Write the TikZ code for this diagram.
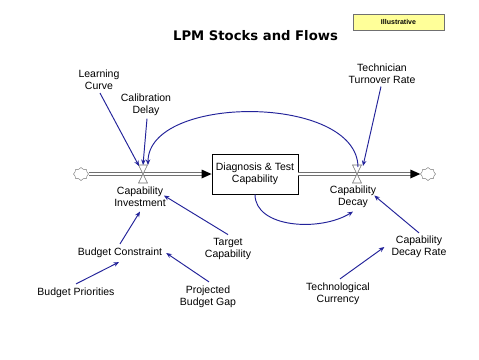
\documentclass[tikz,border=0pt]{standalone}
\usepackage{fontspec}
\setmainfont{Liberation Sans}
\newfontfamily\titlefont{DejaVu Sans}
\usetikzlibrary{arrows.meta,shapes.symbols,calc}
\definecolor{linkblue}{HTML}{23239A}
\definecolor{pipegray}{HTML}{707070}
\definecolor{illyellow}{HTML}{FFFF99}
\tikzset{
  lbl/.style={align=center,inner sep=0pt,font=\fontsize{10.5}{12}\selectfont},
  link/.style={draw=linkblue,line width=0.95pt,-{Stealth[length=5.5pt,width=4.5pt]}},
  pipe/.style={draw=pipegray,double=white,double distance=2.2pt,line width=0.7pt},
  cloudnode/.style={cloud,cloud puffs=8,draw=pipegray,fill=white,minimum width=15pt,minimum height=13pt,inner sep=0pt},
  stockbox/.style={draw=black,line width=0.9pt,fill=white,minimum width=86pt,minimum height=40pt,align=center,inner sep=0pt,font=\fontsize{10.5}{12.5}\selectfont},
}
\newcommand{\valve}[1]{%
  \filldraw[draw=pipegray,fill=white,line width=0.6pt] ($(#1)+(-4.5,-9)$) -- ($(#1)+(4.5,-9)$) -- (#1) -- cycle;
  \filldraw[draw=pipegray,fill=white,line width=0.6pt] ($(#1)+(-4.5,9)$) -- ($(#1)+(4.5,9)$) -- (#1) -- cycle;}
\begin{document}
\begin{tikzpicture}[x=1pt,y=-1pt]
\useasboundingbox[fill=white] (0,0) rectangle (479,359);
% title and badge
\node[font=\titlefont\bfseries\fontsize{13.2}{15}\selectfont] (title) at (255.5,36) {LPM Stocks and Flows};
\node[draw=pipegray,fill=illyellow,minimum width=91pt,minimum height=16pt,inner sep=0pt,font=\bfseries\fontsize{7}{8}\selectfont] (ill) at (398.5,22) {Illustrative};
% stock and flows
\node[stockbox] (stock) at (255,174) {Diagnosis \& Test\\Capability};
\node[cloudnode] (cl) at (81,174) {};
\node[cloudnode] (cr) at (428,174) {};
\coordinate (vin) at (143,174);
\coordinate (vout) at (357,174);
\draw[pipe] (cl.east) -- ($(stock.west)+(-9,0)$);
\draw[pipe] (stock.east) -- ($(cr.west)+(-9,0)$);
\fill[black] (stock.west) -- ++(-10,-4.5) -- ++(0,9) -- cycle;
\fill[black] (cr.west) -- ++(-10,-4.5) -- ++(0,9) -- cycle;
\valve{vin}
\valve{vout}
% labels
\node[lbl] (ci) at (140,196.5) {Capability\\Investment};
\node[lbl] (cdec) at (353,196.5) {Capability\\Decay};
\node[lbl] (lc) at (99,80) {Learning\\Curve};
\node[lbl] (cal) at (146,104.5) {Calibration\\Delay};
\node[lbl] (ttr) at (382,73.5) {Technician\\Turnover Rate};
\node[lbl] (bc) at (120,253) {Budget Constraint};
\node[lbl] (tc) at (228,248.5) {Target\\Capability};
\node[lbl] (bp) at (76,293) {Budget Priorities};
\node[lbl] (pbg) at (208,297) {Projected\\Budget Gap};
\node[lbl] (cdr) at (419,247) {Capability\\Decay Rate};
\node[lbl] (tcur) at (338,294) {Technological\\Currency};
% links
\draw[link] ($(lc.south)+(1,3)$) -- ($(vin)+(-4,-8)$);
\draw[link] ($(cal.south)+(1,3)$) -- ($(vin)+(0,-9)$);
\draw[link] ($(vout)+(1,-7)$) .. controls (357,94) and (148,94) .. ($(vin)+(5,-9)$);
\draw[link] ($(ttr.south)+(-1,3)$) -- ($(vout)+(6,-8)$);
\draw[link] (stock.south) .. controls (255,228) and (320,232) .. ($(cdec.south)+(0,4)$);
\draw[link] ($(cdr.north)+(0,-3)$) -- ($(cdec.east)+(-2,-1)$);
\draw[link] ($(tcur.north)+(2,-4)$) -- ($(cdr.west)+(-7,0)$);
\draw[link] ($(bc.north)+(0,-4)$) -- ($(ci.south)+(0,5)$);
\draw[link] ($(tc.north)+(0,-3)$) -- ($(ci.east)+(-2,-1)$);
\draw[link] ($(bp.north)+(0,-4)$) -- ($(bc.south)+(-1,4)$);
\draw[link] ($(pbg.north)+(1,-4)$) -- ($(bc.east)+(4,0)$);
\end{tikzpicture}
\end{document}
